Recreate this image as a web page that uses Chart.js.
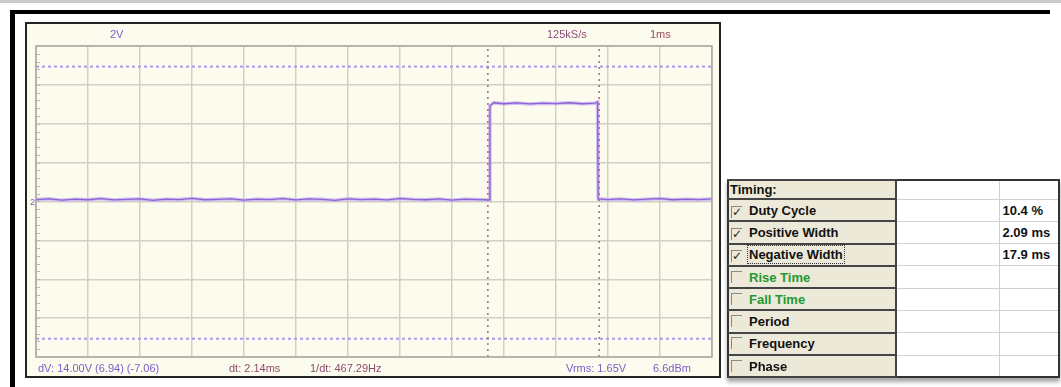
<!DOCTYPE html>
<html><head><meta charset="utf-8">
<script src="https://cdn.jsdelivr.net/npm/chart.js@4/dist/chart.umd.min.js"></script>
<style>
html,body{margin:0;padding:0;background:#fff;width:1061px;height:387px;overflow:hidden;position:relative;font-family:'Liberation Sans Narrow','Liberation Sans',Arial,sans-serif;}
.abs{position:absolute}
#topband{left:0;top:0;width:1061px;height:3px;background:#c9c9c9}
#blackTop{left:10px;top:10px;width:1040px;height:4px;background:#000}
#blackLeft{left:10px;top:10px;width:5px;height:377px;background:#000}
#panel{left:25px;top:22px;width:692px;height:352px;border:2px solid #222;background:#fcfcee}
#chartBox{left:27px;top:24px;width:692px;height:352px}
.lbl{position:absolute;font-size:11px;line-height:12px;white-space:nowrap}
.pur{color:#7b5cc8}
.mar{color:#8c4a6c}
#tbl{position:absolute;left:727px;top:179px;border-collapse:collapse;border:2px solid #333;table-layout:fixed;width:331px;font-weight:bold;font-size:13px;box-shadow:0 4px 4px rgba(0,0,0,0.35);font-family:'Liberation Sans Narrow','Liberation Sans',Arial,sans-serif;color:#111}
#tbl td{padding:0 0 0 2px;border:1px solid #d0d0d0;background:#fff;white-space:nowrap;overflow:hidden}
#tbl td.l{background:#ece9d8;border-top:2px solid #444;border-bottom:2px solid #444;border-right:2px solid #444;padding-left:1px}
#tbl td.v{padding-left:3px}
.cb{display:inline-block;width:10px;height:11px;border-top:1px solid #888;border-left:1px solid #888;margin:0 7px 0 1px;vertical-align:-1px;font-size:12px;line-height:11px;text-align:center;font-family:'DejaVu Sans',sans-serif;font-weight:bold;color:#222}
.focus{outline:1px dotted #333;outline-offset:1px}
.green{color:#229933}
</style>
</head><body>
<div id="topband" class="abs"></div>
<div id="blackTop" class="abs"></div>
<div id="blackLeft" class="abs"></div>
<div id="panel" class="abs"></div>
<div id="chartBox" class="abs"><canvas id="c"></canvas></div>

<div class="lbl pur" style="left:110px;top:28px">2V</div>
<div class="lbl mar" style="left:547px;top:28px;color:#8b4c7c">125kS/s</div>
<div class="lbl mar" style="left:650px;top:28px;color:#a04a64">1ms</div>
<div class="lbl pur" style="left:30px;top:196px;font-size:9px">2</div>
<div class="lbl pur" style="left:38px;top:362px">dV: 14.00V (6.94) (-7.06)</div>
<div class="lbl mar" style="left:229px;top:362px">dt: 2.14ms</div>
<div class="lbl mar" style="left:310px;top:362px">1/dt: 467.29Hz</div>
<div class="lbl pur" style="left:566px;top:362px">Vrms: 1.65V</div>
<div class="lbl pur" style="left:653px;top:362px">6.6dBm</div>

<table id="tbl"><colgroup><col style="width:168px"><col style="width:103px"><col style="width:60px"></colgroup><tbody id="tb"></tbody></table>

<script>
// ---- data ----
const timeRangeMs = [0, 13];      // 13 divisions, 1 ms/div
const voltRange = [-8, 8];        // 8 divisions, 2 V/div
const traceTimeMs = [0,0.25,0.5,0.75,1,1.25,1.5,1.75,2,2.25,2.5,2.75,3,3.25,3.5,3.75,4,4.25,4.5,4.75,5,5.25,5.5,5.75,6,6.25,6.5,6.75,7,7.25,7.5,7.75,8,8.25,8.5,8.72,8.73,8.8,9,9.25,9.5,9.75,10,10.25,10.5,10.75,10.8,10.81,11,11.25,11.5,11.75,12,12.25,12.5,12.75,13];
const traceVolts = [0.10,0.14,0.07,0.12,0.09,0.15,0.08,0.11,0.13,0.06,0.12,0.10,0.16,0.09,0.11,0.14,0.07,0.12,0.10,0.15,0.08,0.13,0.11,0.06,0.14,0.10,0.12,0.08,0.15,0.11,0.09,0.13,0.07,0.12,0.10,
  0.08,4.92,5.08,5.03,5.07,5.02,5.06,5.04,5.08,5.03,5.06,5.12,0.14,0.10,0.13,0.08,0.12,0.15,0.09,0.12,0.10,0.13];
const cursorVolts = [6.94, -7.06];
const cursorTimesMs = [8.69, 10.83];
const measureNames = ['Duty Cycle','Positive Width','Negative Width','Rise Time','Fall Time','Period','Frequency','Phase'];
const measureChecked = [true,true,true,false,false,false,false,false];
const measureValues = ['10.4 %','2.09 ms','17.9 ms','','','','',''];
const measureGreen = [false,false,false,true,true,false,false,false];

// ---- table ----
const tb = document.getElementById('tb');
let html = '<tr style="height:19px"><td class="l">Timing:</td><td></td><td></td></tr>';
measureNames.forEach((n,i)=>{
  const cls = measureGreen[i] ? 'green' : '';
  const txt = i===2 ? '<span class="focus">'+n+'</span>' : n;
  html += '<tr style="height:22.3px"><td class="l"><span class="cb">'+(measureChecked[i]?'✓':'')+'</span><span class="'+cls+'">'+txt+'</span></td><td></td><td class="v">'+measureValues[i]+'</td></tr>';
});
tb.innerHTML = html;

// ---- chart ----
const tracePts = traceTimeMs.map((t,i)=>({x:t,y:traceVolts[i]}));
const datasets = [
  {data:tracePts, borderColor:'#8a64d0', borderWidth:1.3, order:1},
  {data:tracePts, borderColor:'rgba(195,168,246,0.75)', borderWidth:3.5, order:2}
];
cursorVolts.forEach(v=>datasets.push({data:[{x:timeRangeMs[0],y:v},{x:timeRangeMs[1],y:v}], borderColor:'#ae98e8', borderWidth:2, borderDash:[3,3], order:3}));
cursorTimesMs.forEach(t=>datasets.push({data:[{x:t,y:voltRange[0]},{x:t,y:voltRange[1]}], borderColor:'#b46a8c', borderWidth:1.6, borderDash:[2,4], order:0}));

const frame = {
  id:'frame',
  afterDraw(chart){
    const {ctx, chartArea:a, scales:{y}} = chart;
    ctx.save();
    ctx.strokeStyle = '#a8a8a0'; ctx.lineWidth = 1.5;
    ctx.strokeRect(a.left, a.top, a.right-a.left, a.bottom-a.top);
    ctx.strokeStyle = '#b8b8b0'; ctx.lineWidth = 1;
    for (let v = voltRange[0]; v <= voltRange[1]+1e-9; v += 0.4) {
      const p = Math.round(y.getPixelForValue(v)) + 0.5;
      ctx.beginPath(); ctx.moveTo(a.left, p); ctx.lineTo(a.left+4, p); ctx.stroke();
    }
    ctx.restore();
  }
};

new Chart(document.getElementById('c'), {
  type:'line',
  data:{datasets},
  options:{
    responsive:true, maintainAspectRatio:false, animation:false, devicePixelRatio:1,
    layout:{padding:{left:9,top:22,right:7,bottom:19}},
    elements:{point:{radius:0}, line:{tension:0, fill:false}},
    plugins:{legend:{display:false}, tooltip:{enabled:false}},
    scales:{
      x:{type:'linear', min:timeRangeMs[0], max:timeRangeMs[1], ticks:{display:false, stepSize:1}, grid:{color:'#d0d0c4', lineWidth:1.5, drawTicks:false}, border:{display:false}},
      y:{type:'linear', min:voltRange[0], max:voltRange[1], ticks:{display:false, stepSize:2}, grid:{color:'#d0d0c4', lineWidth:1.5, drawTicks:false}, border:{display:false}}
    }
  },
  plugins:[frame]
});
</script>
</body></html>
